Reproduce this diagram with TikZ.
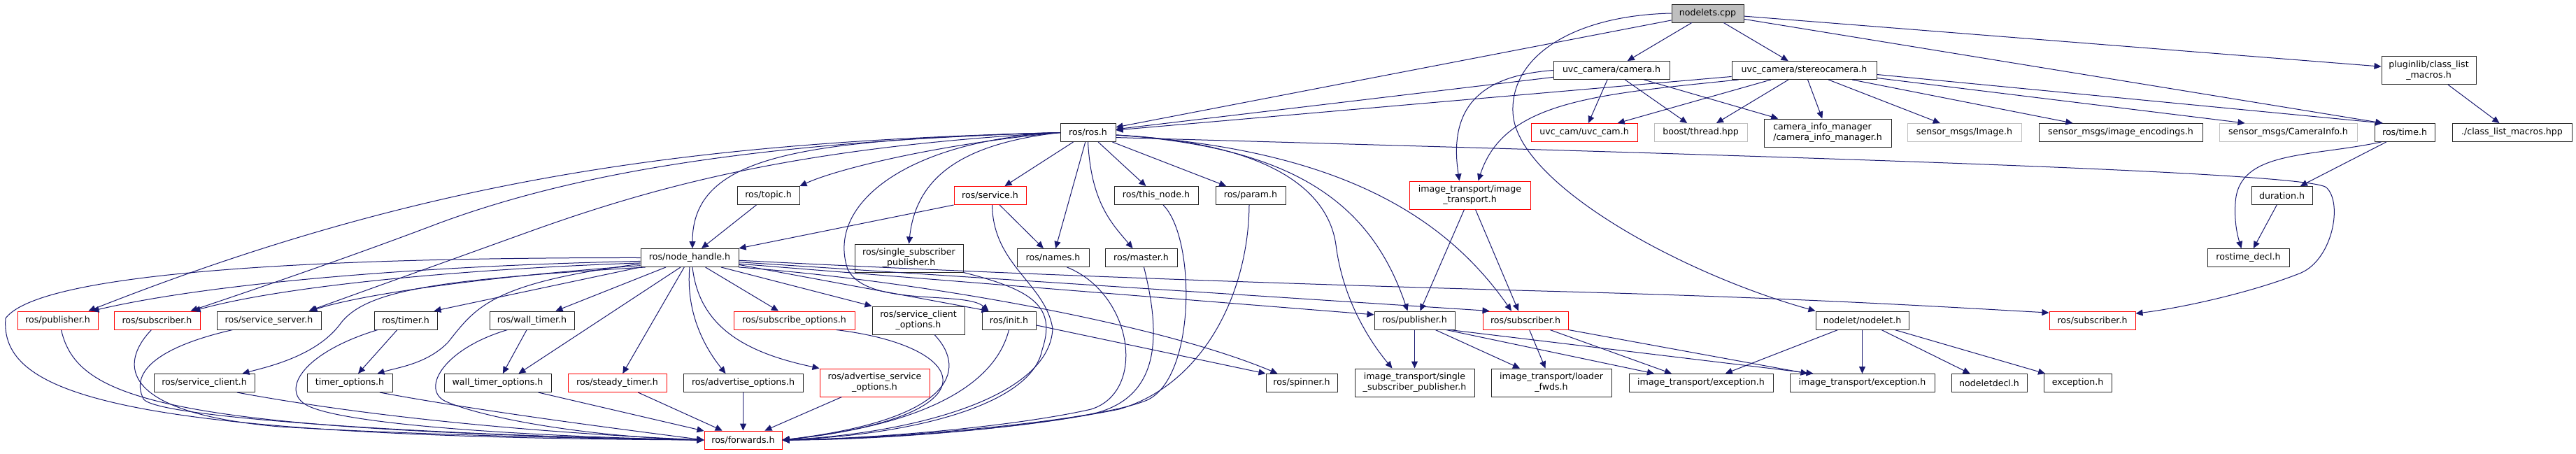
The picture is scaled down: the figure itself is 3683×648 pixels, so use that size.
\documentclass[tikz,border=0pt]{standalone}
\usepackage{fontspec}
\setmainfont{DejaVu Sans}
\usetikzlibrary{arrows.meta}
\definecolor{edgecol}{RGB}{25,25,112}
\definecolor{greyline}{RGB}{191,191,191}
\definecolor{greyfill}{RGB}{191,191,191}
\tikzset{
 nb/.style={draw=black!85, fill=white, line width=1pt, inner sep=0pt, minimum height=26pt, font=\fontsize{12.6}{15}\selectfont, align=center, text=black},
 rb/.style={nb, draw=red},
 gb/.style={nb, draw=greyline},
 tall/.style={minimum height=40pt},
 ed/.style={draw=edgecol, line width=1pt, -{Triangle[length=10pt,width=9pt]}},
}
\begin{document}
\begin{tikzpicture}[x=1pt,y=-1pt]
\useasboundingbox[fill=white] (0,0) rectangle (3683,648);
% row 0
\node[nb, fill=greyfill, minimum width=103pt] (n) at (2441.5,19) {nodelets.cpp};
% row 1
\node[nb, minimum width=166pt] (camera) at (2304,100.5) {uvc\_camera/camera.h};
\node[nb, minimum width=207pt] (stereo) at (2579.5,100.5) {uvc\_camera/stereocamera.h};
\node[nb, tall, minimum width=135pt] (plugin) at (3472.5,100.5) {pluginlib/class\_list\\\_macros.h};
% row 2
\node[nb, minimum width=79pt] (rosh) at (1555.5,189.5) {ros/ros.h};
\node[rb, minimum width=152pt] (uvccam) at (2265,189.5) {uvc\_cam/uvc\_cam.h};
\node[gb, minimum width=133pt] (boost) at (2431.5,189.5) {boost/thread.hpp};
\node[nb, tall, minimum width=182pt, align=left] (cim) at (2613,190) {camera\_info\_manager\\/camera\_info\_manager.h};
\node[gb, minimum width=163pt] (smimg) at (2808.5,189.5) {sensor\_msgs/Image.h};
\node[nb, minimum width=234pt] (smenc) at (3032,189.5) {sensor\_msgs/image\_encodings.h};
\node[gb, minimum width=197pt] (smci) at (3271.5,189.5) {sensor\_msgs/CameraInfo.h};
\node[nb, minimum width=86pt] (rostime) at (3438,189.5) {ros/time.h};
\node[nb, minimum width=171pt] (clm) at (3591.5,189.5) {./class\_list\_macros.hpp};
% row 3
\node[nb, minimum width=89pt] (topic) at (1098.5,279.5) {ros/topic.h};
\node[rb, minimum width=103pt] (service) at (1415.5,279.5) {ros/service.h};
\node[nb, minimum width=120pt] (thisnode) at (1653,279.5) {ros/this\_node.h};
\node[nb, minimum width=100pt] (param) at (1788,279.5) {ros/param.h};
\node[rb, tall, minimum width=173pt] (itimg) at (2101.5,279) {image\_transport/image\\\_transport.h};
\node[nb, minimum width=87pt] (duration) at (3262.5,279.5) {duration.h};
% row 4
\node[nb, minimum width=140pt] (nh) at (986,368.5) {ros/node\_handle.h};
\node[nb, tall, minimum width=155pt] (rsspub) at (1299.5,369) {ros/single\_subscriber\\\_publisher.h};
\node[nb, minimum width=103pt] (names) at (1505.5,368.5) {ros/names.h};
\node[nb, minimum width=103pt] (master) at (1631.5,368.5) {ros/master.h};
\node[nb, minimum width=117pt] (rtdecl) at (3214.5,368.5) {rostime\_decl.h};
% row 5
\node[rb, minimum width=115pt] (pubL) at (82.5,458) {ros/publisher.h};
\node[rb, minimum width=123pt] (subL) at (224.5,458) {ros/subscriber.h};
\node[nb, minimum width=149pt] (sserver) at (384.5,458) {ros/service\_server.h};
\node[nb, minimum width=90pt] (timer) at (580,458) {ros/timer.h};
\node[nb, minimum width=121pt] (walltimer) at (760.5,458) {ros/wall\_timer.h};
\node[rb, minimum width=173pt] (subopt) at (1135.5,458) {ros/subscribe\_options.h};
\node[nb, tall, minimum width=132pt] (scopt) at (1313,458) {ros/service\_client\\\_options.h};
\node[nb, minimum width=77pt] (init) at (1442.5,458) {ros/init.h};
\node[nb, minimum width=115pt] (pubR) at (2022.5,458) {ros/publisher.h};
\node[rb, minimum width=122pt] (subM) at (2181,458) {ros/subscriber.h};
\node[nb, minimum width=133pt] (nodelet) at (2662.5,458) {nodelet/nodelet.h};
\node[rb, minimum width=123pt] (subR) at (2991.5,458) {ros/subscriber.h};
% row 6
\node[nb, minimum width=144pt] (sclient) at (292,547.5) {ros/service\_client.h};
\node[nb, minimum width=122pt] (topt) at (500,547.5) {timer\_options.h};
\node[nb, minimum width=153pt] (wtopt) at (711.5,547.5) {wall\_timer\_options.h};
\node[rb, minimum width=141pt] (steady) at (882.5,547.5) {ros/steady\_timer.h};
\node[nb, minimum width=171pt] (advopt) at (1062.5,547.5) {ros/advertise\_options.h};
\node[rb, tall, minimum width=157pt] (advsrv) at (1250.5,547) {ros/advertise\_service\\\_options.h};
\node[nb, minimum width=102pt] (spinner) at (1861,547.5) {ros/spinner.h};
\node[nb, tall, minimum width=171pt] (itsspub) at (2022.5,547) {image\_transport/single\\\_subscriber\_publisher.h};
\node[nb, tall, minimum width=172pt] (loader) at (2218,547) {image\_transport/loader\\\_fwds.h};
\node[nb, minimum width=206pt] (exca) at (2432,547.5) {image\_transport/exception.h};
\node[nb, minimum width=207pt] (excb) at (2662.5,547.5) {image\_transport/exception.h};
\node[nb, minimum width=108pt] (ndecl) at (2844,547.5) {nodeletdecl.h};
\node[nb, minimum width=97pt] (exch) at (2970.5,547.5) {exception.h};
% row 7
\node[rb, minimum width=111pt] (fwd) at (1062.5,629) {ros/forwards.h};

% ---- edges ----
% nodelets.cpp
\draw[ed] (n) -- (camera);
\draw[ed] (n) -- (stereo);
\draw[ed] (n) -- (rosh);
\draw[ed] (n) -- (plugin);
\draw[ed] (n) -- ([xshift=12pt]rostime.north west);
\draw[ed] (n.west) .. controls (2250,22) and (2160,80) .. (2163,160) .. controls (2166,260) and (2400,390) .. (nodelet.north west);
% camera.h
\draw[ed] (camera) -- (rosh);
\draw[ed] (camera.west) .. controls (2120,108) and (2070,150) .. ([xshift=-15pt]itimg.north);
\draw[ed] (camera) -- (uvccam);
\draw[ed] (camera) -- (boost);
\draw[ed] (camera) -- (cim);
% stereocamera.h
\draw[ed] (stereo) -- (rosh);
\draw[ed] ([xshift=10pt]stereo.south west) .. controls (2280,135) and (2150,145) .. ([xshift=12pt]itimg.north);
\draw[ed] (stereo) -- (uvccam);
\draw[ed] (stereo) -- (boost);
\draw[ed] (stereo) -- (cim);
\draw[ed] (stereo) -- (smimg);
\draw[ed] (stereo) -- (smenc);
\draw[ed] ([yshift=-11pt]stereo.east) -- ([xshift=-62pt]smci.north);
\draw[ed] ([yshift=-6pt]stereo.east) -- ([xshift=12pt]rostime.north west);
% pluginlib, time
\draw[ed] (plugin) -- (clm);
\draw[ed] (rostime) -- (duration);
\draw[ed] ([xshift=10pt]rostime.south west) .. controls (3300,225) and (3200,215) .. (3196,290) .. controls (3194,320) and (3200,340) .. ([xshift=-10pt]rtdecl.north);
\draw[ed] (duration) -- (rtdecl);
% ros.h
\draw[ed] (rosh.-10) .. controls (2500,222) and (3300,245) .. (3326,268) .. controls (3350,290) and (3335,370) .. (3290,390) .. controls (3220,418) and (3120,440) .. (subR.9);
\draw[ed] (rosh.-5) .. controls (1850,210) and (1960,290) .. ([xshift=-10pt]pubR.north);
\draw[ed] (rosh.-5) .. controls (1900,212) and (2060,300) .. ([xshift=-20pt]subM.north);
\draw[ed] (rosh.-5) .. controls (1830,205) and (1900,280) .. (1910,350) .. controls (1920,430) and (1960,490) .. ([xshift=-32pt]itsspub.north);
\draw[ed] (rosh) -- (thisnode);
\draw[ed] (rosh) -- (param);
\draw[ed] (rosh) -- (names);
\draw[ed] (rosh.south) .. controls (1560,290) and (1590,320) .. ([xshift=-12pt]master.north);
\draw[ed] (rosh) -- (service);
\draw[ed] (rosh.west) .. controls (1350,205) and (1200,240) .. (topic.north east);
\draw[ed] (rosh.west) .. controls (1150,200) and (990,220) .. ([xshift=4pt]nh.north);
\draw[ed] (rosh.west) .. controls (1380,205) and (1310,250) .. (rsspub.north);
\draw[ed] (rosh.west) .. controls (1300,200) and (1180,290) .. (1212,385) .. controls (1240,440) and (1380,415) .. ([xshift=10pt]init.north west);
\draw[ed] (rosh.west) .. controls (1000,203) and (620,250) .. ([xshift=-14pt]pubL.north east);
\draw[ed] (rosh.west) .. controls (1050,203) and (800,255) .. (625,320) .. controls (480,375) and (330,425) .. ([xshift=-14pt]subL.north east);
\draw[ed] (rosh.west) .. controls (1150,210) and (950,262) .. (760,330) -- ([xshift=-18pt]sserver.north east);
% topic, service
\draw[ed] (topic) -- (nh);
\draw[ed] (service.south west) -- (nh.north east);
\draw[ed] (service) -- (names);
% node_handle.h
\draw[ed] (nh.west) .. controls (500,368) and (60,385) .. (8,455) .. controls (0,560) and (150,625) .. (fwd.west);
\draw[ed] (nh.184) .. controls (600,380) and (300,405) .. ([xshift=-9pt]pubL.north east);
\draw[ed] (nh.186) .. controls (650,385) and (400,410) .. ([xshift=-10pt]subL.north east);
\draw[ed] (nh.189) .. controls (700,395) and (520,420) .. ([xshift=-16pt]sserver.north east);
\draw[ed] (nh.192) .. controls (620,400) and (520,415) .. (485,465) .. controls (450,510) and (380,525) .. ([xshift=-18pt]sclient.north east);
\draw[ed] (nh.south west) -- ([xshift=-5pt]timer.north east);
\draw[ed] (nh.187) .. controls (700,405) and (680,440) .. (640,490) .. controls (610,520) and (570,525) .. ([xshift=-22pt]topt.north east);
\draw[ed] (nh) -- (walltimer);
\draw[ed] ([xshift=-13pt]nh.south) -- ([xshift=30pt]wtopt.north);
\draw[ed] (nh) -- (steady);
\draw[ed] (nh.south) .. controls (980,450) and (1010,500) .. ([xshift=-25pt]advopt.north);
\draw[ed] ([xshift=4pt]nh.south) .. controls (1000,470) and (1070,505) .. (advsrv.north west);
\draw[ed] (nh) -- (subopt);
\draw[ed] ([xshift=45pt]nh.south) -- (scopt.north west);
\draw[ed] (nh.-8) -- ([xshift=10pt]init.north west);
\draw[ed] (nh.south east) .. controls (1300,400) and (1650,460) .. ([xshift=17pt]spinner.north west);
\draw[ed] (nh.-7) -- (pubR.172);
\draw[ed] (nh.-5) -- ([xshift=10pt]subM.north west);
\draw[ed] (nh.-3) .. controls (1400,390) and (1800,405) .. (2240,417) .. controls (2600,427) and (2800,440) .. (subR.170);
% timers, init
\draw[ed] (timer) -- (topt);
\draw[ed] (walltimer) -- (wtopt);
\draw[ed] (init.-10) -- (spinner.north west);
% image_transport
\draw[ed] ([xshift=-8pt]itimg.south) -- ([xshift=8pt]pubR.north);
\draw[ed] ([xshift=8pt]itimg.south) -- ([xshift=-10pt]subM.north);
\draw[ed] (pubR) -- (itsspub);
\draw[ed] (pubR) -- (loader);
\draw[ed] ([xshift=45pt]pubR.south) -- ([xshift=-67pt]exca.north);
\draw[ed] ([xshift=50pt]pubR.south) -- ([xshift=-70pt]excb.north);
\draw[ed] (subM) -- (loader);
\draw[ed] ([xshift=35pt]subM.south) -- ([xshift=-42pt]exca.north);
\draw[ed] (subM.south east) -- ([xshift=-78pt]excb.north);
% nodelet
\draw[ed] (nodelet) -- (exca);
\draw[ed] (nodelet) -- (excb);
\draw[ed] (nodelet) -- (ndecl);
\draw[ed] (nodelet) -- (exch);
% into forwards.h
\draw[ed] ([xshift=5pt]pubL.south) .. controls (110,570) and (230,615) .. (fwd.west);
\draw[ed] ([xshift=-8pt]subL.south) .. controls (170,520) and (170,590) .. (400,610) .. controls (600,622) and (850,627) .. (fwd.west);
\draw[ed] ([xshift=-52pt]sserver.south) .. controls (230,495) and (185,530) .. (205,570) .. controls (220,600) and (700,625) .. (fwd.west);
\draw[ed] ([xshift=47pt]sclient.south) .. controls (550,600) and (800,620) .. (fwd.west);
\draw[ed] ([xshift=43pt]topt.south) .. controls (700,590) and (900,615) .. (fwd.west);
\draw[ed] ([xshift=-40pt]timer.south) .. controls (430,505) and (400,560) .. (440,580) .. controls (500,610) and (800,625) .. (fwd.west);
\draw[ed] ([xshift=-35pt]walltimer.south) .. controls (630,500) and (600,560) .. (640,575) .. controls (700,600) and (850,625) .. (fwd.west);
\draw[ed] (wtopt) -- (fwd);
\draw[ed] (steady) -- (fwd);
\draw[ed] (advopt) -- (fwd);
\draw[ed] (advsrv) -- (fwd);
\draw[ed] ([xshift=60pt]subopt.south) .. controls (1390,495) and (1430,595) .. (fwd.east);
\draw[ed] ([xshift=23pt]scopt.south) .. controls (1385,530) and (1360,600) .. (fwd.east);
\draw[ed] (init.south) .. controls (1420,560) and (1300,610) .. (fwd.east);
\draw[ed] ([xshift=3pt]service.south) .. controls (1420,380) and (1495,405) .. (1505,470) .. controls (1500,570) and (1300,620) .. (fwd.east);
\draw[ed] (rsspub.south east) .. controls (1480,415) and (1510,440) .. (1490,500) .. controls (1475,580) and (1300,622) .. (fwd.east);
\draw[ed] ([xshift=20pt]names.south) .. controls (1620,420) and (1640,560) .. (1560,585) .. controls (1450,610) and (1250,627) .. (fwd.east);
\draw[ed] ([xshift=4pt]master.south) .. controls (1660,480) and (1660,570) .. (1560,592) .. controls (1450,614) and (1250,628) .. (fwd.east);
\draw[ed] ([xshift=10pt]thisnode.south) .. controls (1710,340) and (1710,540) .. (1640,572) .. controls (1560,605) and (1250,628) .. (fwd.east);
\draw[ed] ([xshift=-2pt]param.south) .. controls (1785,420) and (1720,550) .. (1600,585) .. controls (1450,615) and (1250,629) .. (fwd.east);
\end{tikzpicture}
\end{document}
